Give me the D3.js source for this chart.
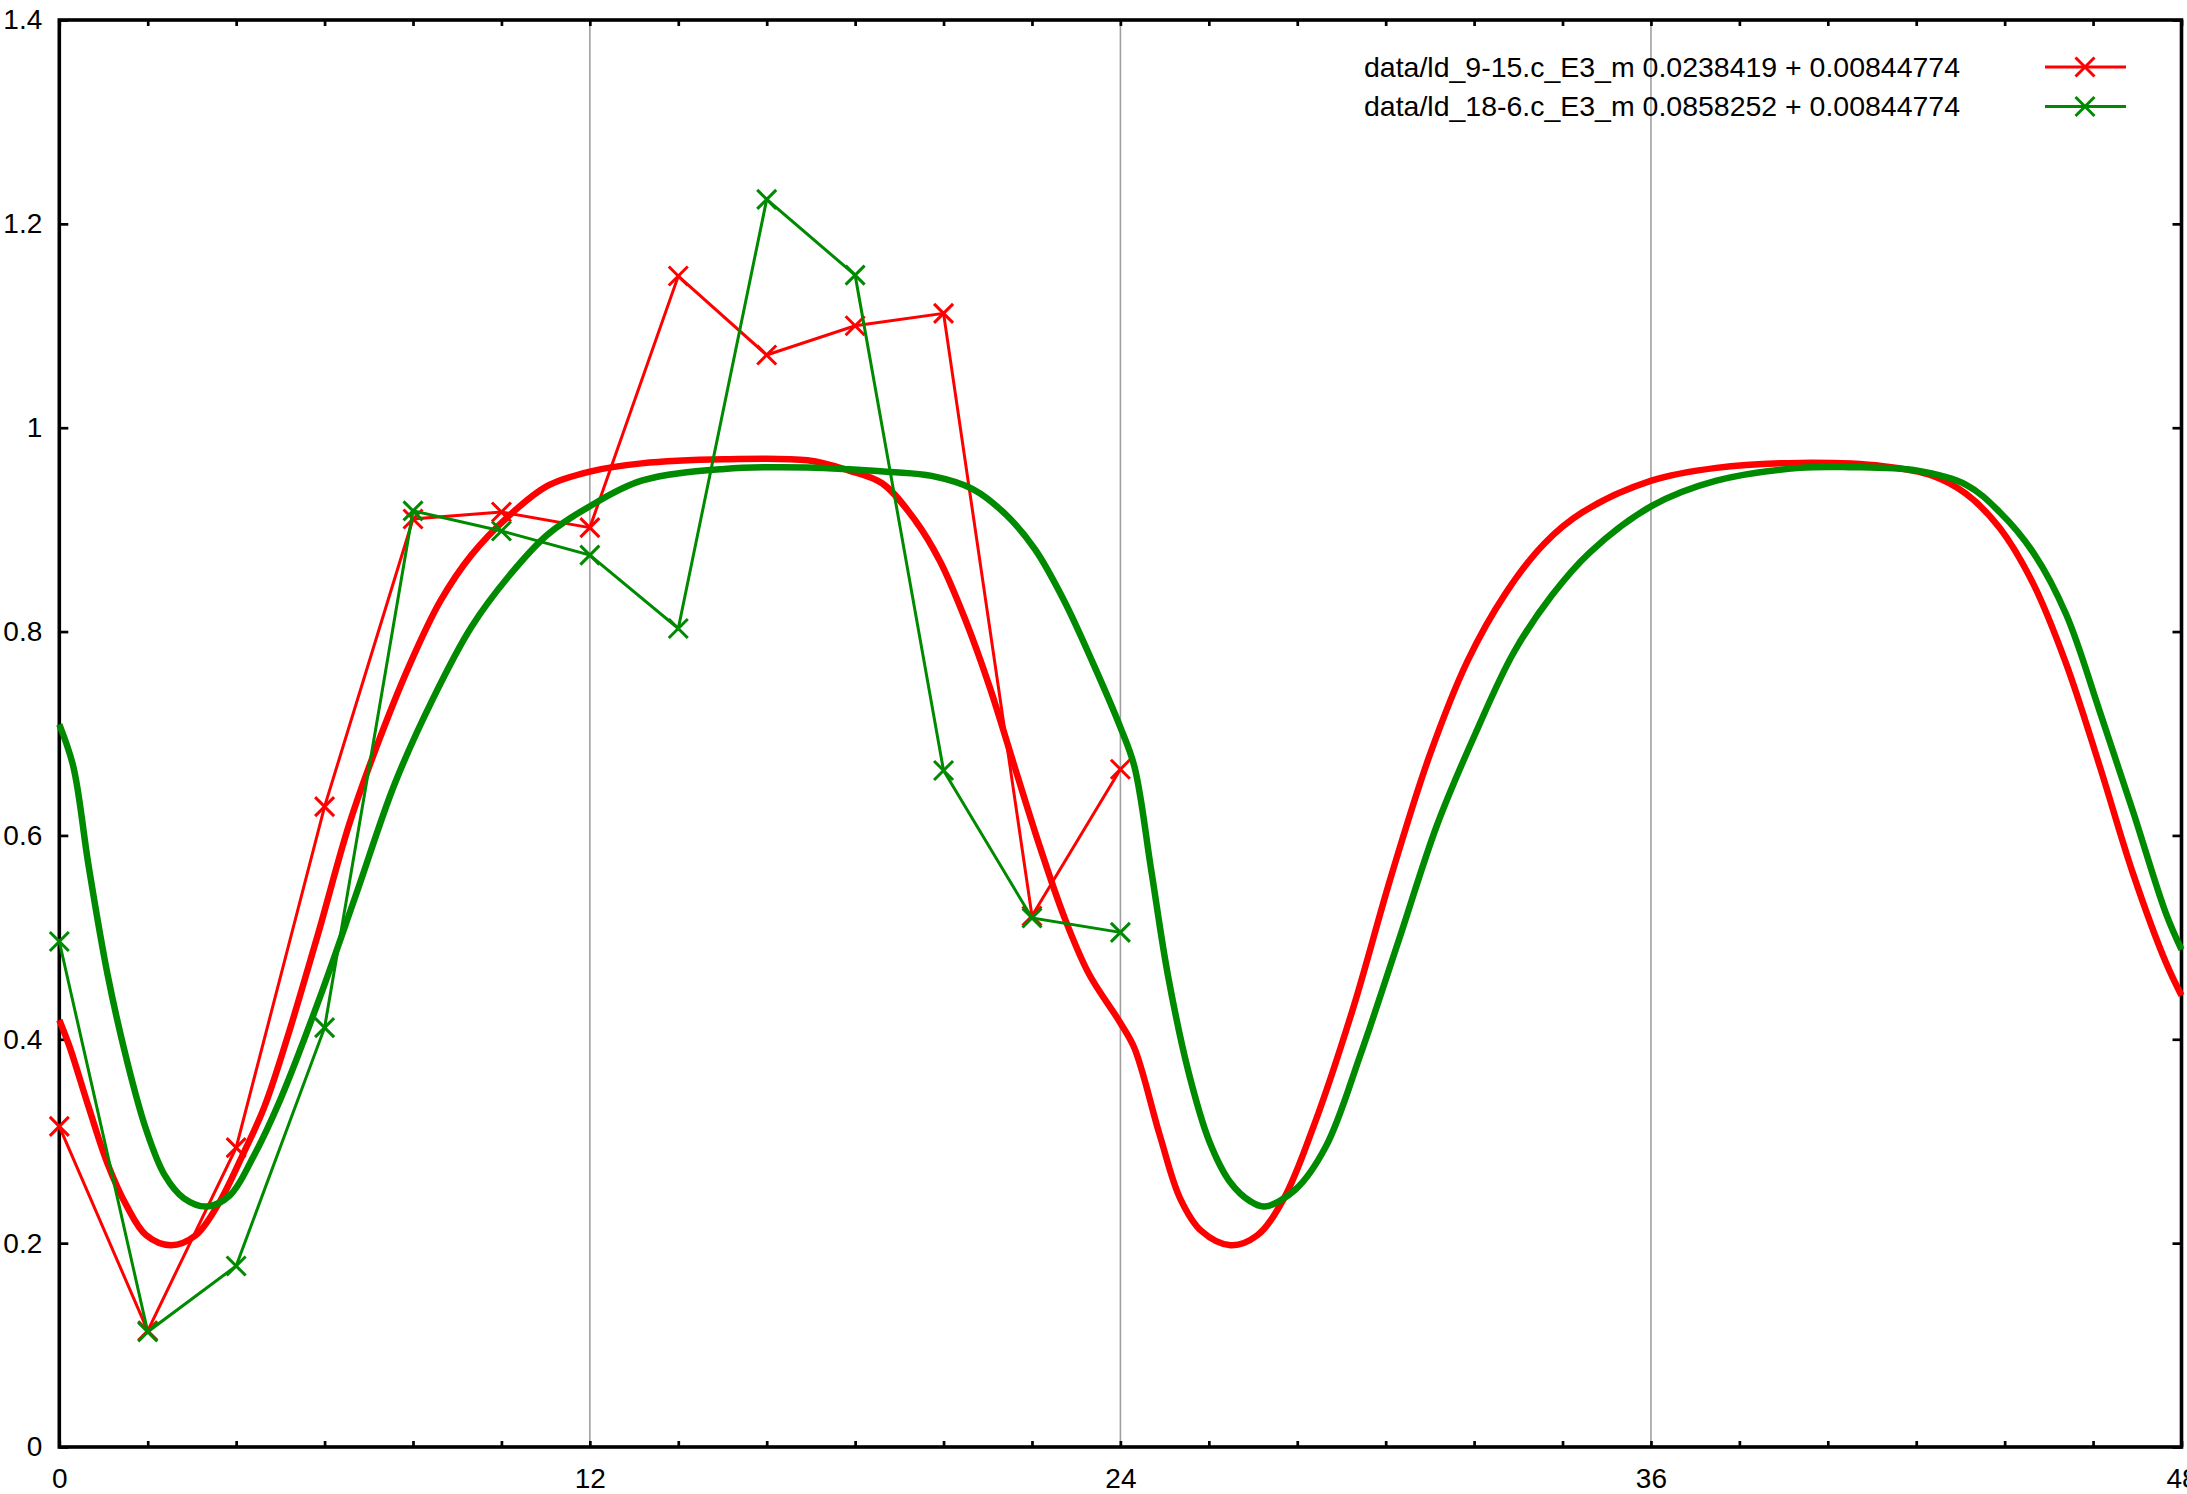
<!DOCTYPE html>
<html><head><meta charset="utf-8">
<script src="https://cdn.jsdelivr.net/npm/d3@7"></script>
<style>html,body{margin:0;padding:0;background:#fff;} svg{display:block;}</style>
</head><body>
<svg id="c" width="2187" height="1494"></svg>
<script>
// ---------- data ----------
const hours = [0, 2, 4, 6, 8, 10, 12, 14, 16, 18, 20, 22, 24];
const redObs   = [0.3145, 0.114, 0.2937, 0.6283, 0.9105, 0.9173, 0.902, 1.1488, 1.0713, 1.1000, 1.1122, 0.521, 0.6649];
const greenObs = [0.4959, 0.113, 0.1776, 0.4114, 0.9184, 0.8987, 0.875, 0.8030, 1.2240, 1.1497, 0.6637, 0.519, 0.5049];

const redFitX = [0, 0.23, 0.66, 1.09, 1.53, 1.96, 2.52, 3.08, 3.60, 4.12, 4.64, 5.16, 5.85, 6.55, 7.15, 7.93, 8.62, 9.32, 10.18, 11.04, 12.0, 13.17, 15.04, 16.92, 17.86, 18.61, 19.36, 19.92, 20.48, 21.04, 21.61, 22.17, 22.73, 23.29, 24.0, 24.32, 24.89, 25.35, 25.83, 26.49, 27.09, 27.70, 28.39, 29.26, 30.12, 30.99, 31.85, 32.72, 33.58, 34.45, 36.01, 37.48, 39.36, 41.25, 42.38, 43.13, 43.88, 44.64, 45.39, 46.15, 46.90, 47.65, 48.0];
const redFitY = [0.419, 0.393, 0.334, 0.278, 0.236, 0.208, 0.198, 0.2075, 0.2385, 0.284, 0.334, 0.402, 0.503, 0.610, 0.684, 0.768, 0.830, 0.875, 0.914, 0.943, 0.957, 0.965, 0.969, 0.968, 0.958, 0.9455, 0.909, 0.869, 0.813, 0.746, 0.667, 0.590, 0.520, 0.464, 0.416, 0.391, 0.306, 0.244, 0.212, 0.198, 0.2075, 0.244, 0.317, 0.430, 0.5595, 0.678, 0.771, 0.838, 0.886, 0.917, 0.948, 0.9606, 0.9655, 0.9623, 0.9526, 0.935, 0.902, 0.8475, 0.7686, 0.668, 0.563, 0.475, 0.443];

const greenFitX = [0, 0.32, 0.66, 1.09, 1.53, 1.96, 2.38, 2.82, 3.34, 3.86, 4.38, 4.99, 5.85, 6.72, 7.58, 8.45, 9.32, 10.18, 11.04, 12.0, 13.17, 15.04, 16.92, 18.79, 19.73, 20.67, 21.42, 22.07, 22.73, 23.39, 24.0, 24.32, 24.70, 25.07, 25.54, 26.01, 26.48, 26.94, 27.27, 27.96, 28.65, 29.43, 30.30, 31.16, 32.03, 32.89, 33.76, 34.62, 36.01, 37.48, 39.36, 40.49, 42.0, 43.13, 43.88, 44.64, 45.39, 46.15, 46.90, 47.65, 48.0];
const greenFitY = [0.709, 0.667, 0.571, 0.464, 0.379, 0.312, 0.267, 0.244, 0.236, 0.247, 0.284, 0.340, 0.436, 0.543, 0.650, 0.734, 0.8045, 0.855, 0.895, 0.923, 0.948, 0.9595, 0.961, 0.9566, 0.9527, 0.9396, 0.9144, 0.8806, 0.830, 0.768, 0.706, 0.667, 0.565, 0.464, 0.368, 0.300, 0.260, 0.241, 0.236, 0.2526, 0.295, 0.385, 0.4976, 0.610, 0.700, 0.779, 0.8356, 0.8778, 0.923, 0.948, 0.9606, 0.9613, 0.958, 0.944, 0.9176, 0.878, 0.817, 0.7217, 0.624, 0.5233, 0.488];

const xTickMarks  = [0, 2, 4, 6, 8, 10, 12, 14, 16, 18, 20, 22, 24, 26, 28, 30, 32, 34, 36, 38, 40, 42, 44, 46, 48];
const xTickLabels = [0, 12, 24, 36, 48];
const yTickMarks  = [0, 0.2, 0.4, 0.6, 0.8, 1.0, 1.2, 1.4];
const yTickLabels = ["0", "0.2", "0.4", "0.6", "0.8", "1", "1.2", "1.4"];
const gridHours   = [12, 24, 36];
const seriesNames = ["data/ld_9-15.c_E3_m 0.0238419 + 0.00844774", "data/ld_18-6.c_E3_m 0.0858252 + 0.00844774"];
const seriesColors = ["#ff0000", "#008a00"];

// ---------- layout ----------
const L = 59.3, R = 2181.5, T = 20, B = 1447;
const FONT = "'Liberation Sans', Arial, Helvetica, sans-serif";
const svg = d3.select("#c");
const x = d3.scaleLinear().domain([0, 48]).range([L, R]);
const y = d3.scaleLinear().domain([0, 1.4]).range([B, T]);

// grid
svg.append("g").selectAll("line").data(gridHours).join("line")
  .attr("x1", d => x(d)).attr("x2", d => x(d))
  .attr("y1", T).attr("y2", B)
  .attr("stroke", "#a0a0a0").attr("stroke-width", 1.6);

// axes
function styleAxis(g) {
  g.select(".domain").remove();
  g.selectAll(".tick line").attr("stroke", "#000").attr("stroke-width", 2.7);
  g.selectAll(".tick text").attr("fill", "#000").style("font-family", FONT).style("font-size", "28px");
}
svg.append("g").attr("transform", `translate(0,${B})`)
  .call(d3.axisBottom(x).tickValues(xTickMarks).tickSizeInner(-6).tickSizeOuter(0).tickPadding(21)
    .tickFormat(d => xTickLabels.includes(d) ? String(d) : ""))
  .call(styleAxis);
svg.append("g").attr("transform", `translate(0,${T})`)
  .call(d3.axisTop(x).tickValues(xTickMarks).tickSizeInner(-6).tickSizeOuter(0).tickFormat(""))
  .call(styleAxis);
svg.append("g").attr("transform", `translate(${L},0)`)
  .call(d3.axisLeft(y).tickValues(yTickMarks).tickSizeInner(-9).tickSizeOuter(0).tickPadding(17)
    .tickFormat((d, i) => yTickLabels[i]))
  .call(styleAxis);
svg.append("g").attr("transform", `translate(${R},0)`)
  .call(d3.axisRight(y).tickValues(yTickMarks).tickSizeInner(-9).tickSizeOuter(0).tickFormat(""))
  .call(styleAxis);

// frame
svg.append("rect").attr("x", L).attr("y", T).attr("width", R - L).attr("height", B - T)
  .attr("fill", "none").attr("stroke", "#000").attr("stroke-width", 3.6);

const cross = "M-9.5,-9.5L9.5,9.5M-9.5,9.5L9.5,-9.5";
const obsLine = d3.line().x(d => x(d[0])).y(d => y(d[1]));
const fitLine = d3.line().x(d => x(d[0])).y(d => y(d[1])).curve(d3.curveCatmullRom.alpha(0.5));

const series = [
  { obs: redObs, fx: redFitX, fy: redFitY, color: seriesColors[0], name: seriesNames[0] },
  { obs: greenObs, fx: greenFitX, fy: greenFitY, color: seriesColors[1], name: seriesNames[1] }
];

series.forEach((s, k) => {
  const g = svg.append("g");
  const pts = hours.map((h, i) => [h, s.obs[i]]);
  g.append("path").attr("d", obsLine(pts)).attr("fill", "none")
    .attr("stroke", s.color).attr("stroke-width", 3).attr("stroke-linejoin", "miter");
  g.selectAll("path.m").data(pts).join("path").attr("class", "m")
    .attr("transform", d => `translate(${x(d[0])},${y(d[1])})`)
    .attr("d", cross).attr("stroke", s.color).attr("stroke-width", 3).attr("fill", "none");
  const fpts = s.fx.map((v, i) => [v, s.fy[i]]);
  g.append("path").attr("d", fitLine(fpts)).attr("fill", "none")
    .attr("stroke", s.color).attr("stroke-width", 6.5).attr("stroke-linejoin", "round");

  // legend
  const ly = 67 + k * 39.5;
  const lg = svg.append("g");
  lg.append("text").attr("x", 1960).attr("y", ly).attr("dy", "0.35em")
    .attr("text-anchor", "end").style("font-family", FONT).style("font-size", "28px")
    .attr("textLength", 596).attr("lengthAdjust", "spacingAndGlyphs")
    .attr("fill", "#000").text(s.name);
  lg.append("line").attr("x1", 2045).attr("x2", 2126).attr("y1", ly).attr("y2", ly)
    .attr("stroke", s.color).attr("stroke-width", 3);
  lg.append("path").attr("transform", `translate(2085,${ly})`).attr("d", cross)
    .attr("stroke", s.color).attr("stroke-width", 3).attr("fill", "none");
});
</script>
</body></html>
